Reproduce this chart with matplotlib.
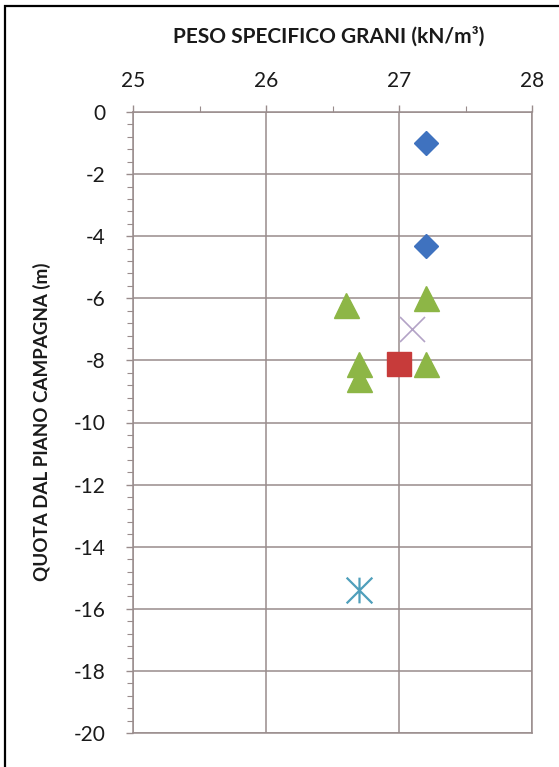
import numpy as np
import matplotlib
matplotlib.use("Agg")
import matplotlib.pyplot as plt
from matplotlib.path import Path
from matplotlib.patches import Rectangle
from matplotlib.ticker import MultipleLocator

plt.rcParams['font.family'] = ['Lato', 'DejaVu Sans']
plt.rcParams['axes.unicode_minus'] = False

# grain unit weight (kN/m3) vs depth below ground level (m), one list pair per group
diam_x = [27.2, 27.2]
diam_y = [-1.0, -4.3]
sq_x = [27.0]
sq_y = [-8.1]
tri_x = [26.6, 27.2, 27.2, 26.7, 26.7]
tri_y = [-6.2, -6.0, -8.1, -8.1, -8.6]
cross_x = [27.1]
cross_y = [-7.0]
star_x = [26.7]
star_y = [-15.4]

x_ticks = [25, 26, 27, 28]
y_ticks = list(range(0, -21, -2))

W, H = 559, 767
fig = plt.figure(figsize=(W / 100, H / 100), dpi=100)
ax = fig.add_axes([133 / W, 1 - 733 / H, (532 - 133) / W, (733 - 112) / H])

gridc = "#998c8c"

# excel style star: an x with a vertical bar through it
star = Path([(-1, -1), (1, 1), (-1, 1), (1, -1), (0, -1), (0, 1)],
            [Path.MOVETO, Path.LINETO, Path.MOVETO, Path.LINETO,
             Path.MOVETO, Path.LINETO])

ax.plot(diam_x, diam_y, ls="none", marker="D", ms=12.5, mfc="#3f72bf",
        mec="#3f72bf", zorder=3)
ax.plot(sq_x, sq_y, ls="none", marker="s", ms=17.5, mfc="#c73b3a",
        mec="#c73b3a", zorder=3)
ax.plot(tri_x, tri_y, ls="none", marker="^", ms=18, mfc="#8db646",
        mec="#8db646", zorder=3)
ax.plot(cross_x, cross_y, ls="none", marker="x", ms=18, mew=1.2,
        mec="#b3a3c6", zorder=3)
ax.plot(star_x, star_y, ls="none", marker=star, ms=18.5, mew=1.6,
        mfc="none", mec="#4f9fbb", zorder=3)

ax.set_xlim(25, 28)
ax.set_ylim(-20, 0)
ax.xaxis.tick_top()
ax.set_xticks(x_ticks)
ax.set_yticks(y_ticks)
ax.xaxis.set_minor_locator(MultipleLocator(0.5))
ax.yaxis.set_minor_locator(MultipleLocator(0.4))
ax.tick_params(axis="both", which="major", direction="out", length=5,
               width=1, color=gridc, labelsize=15, labelcolor="#1a1a1a")
ax.tick_params(axis="x", which="major", pad=10)
ax.tick_params(axis="y", which="major", pad=15)
ax.tick_params(axis="both", which="minor", direction="out", length=4,
               width=0.8, color=gridc)
ax.tick_params(axis="x", which="minor", top=True, bottom=False)

ax.grid(True, which="major", color=gridc, lw=1.1)
for s in ax.spines.values():
    s.set_color(gridc)
    s.set_linewidth(1.1)

fig.text(329 / W, 1 - 36 / H, "PESO SPECIFICO GRANI (kN/m³)", ha="center",
         va="center", fontsize=15, fontweight="bold", color="#1a1a1a")
fig.text(42 / W, 1 - 422 / H, "QUOTA DAL PIANO CAMPAGNA (m)", ha="center",
         va="center", rotation=90, fontsize=13.5, fontweight="bold",
         color="#1a1a1a")

# outer chart frame, cut off on the right and at the bottom
fig.patches.append(Rectangle((5 / W, -0.2), 1.2, 1.2 - 6 / H,
                             transform=fig.transFigure, fill=False,
                             ec="black", lw=1.6))

fig.savefig("out.png", dpi=100)
